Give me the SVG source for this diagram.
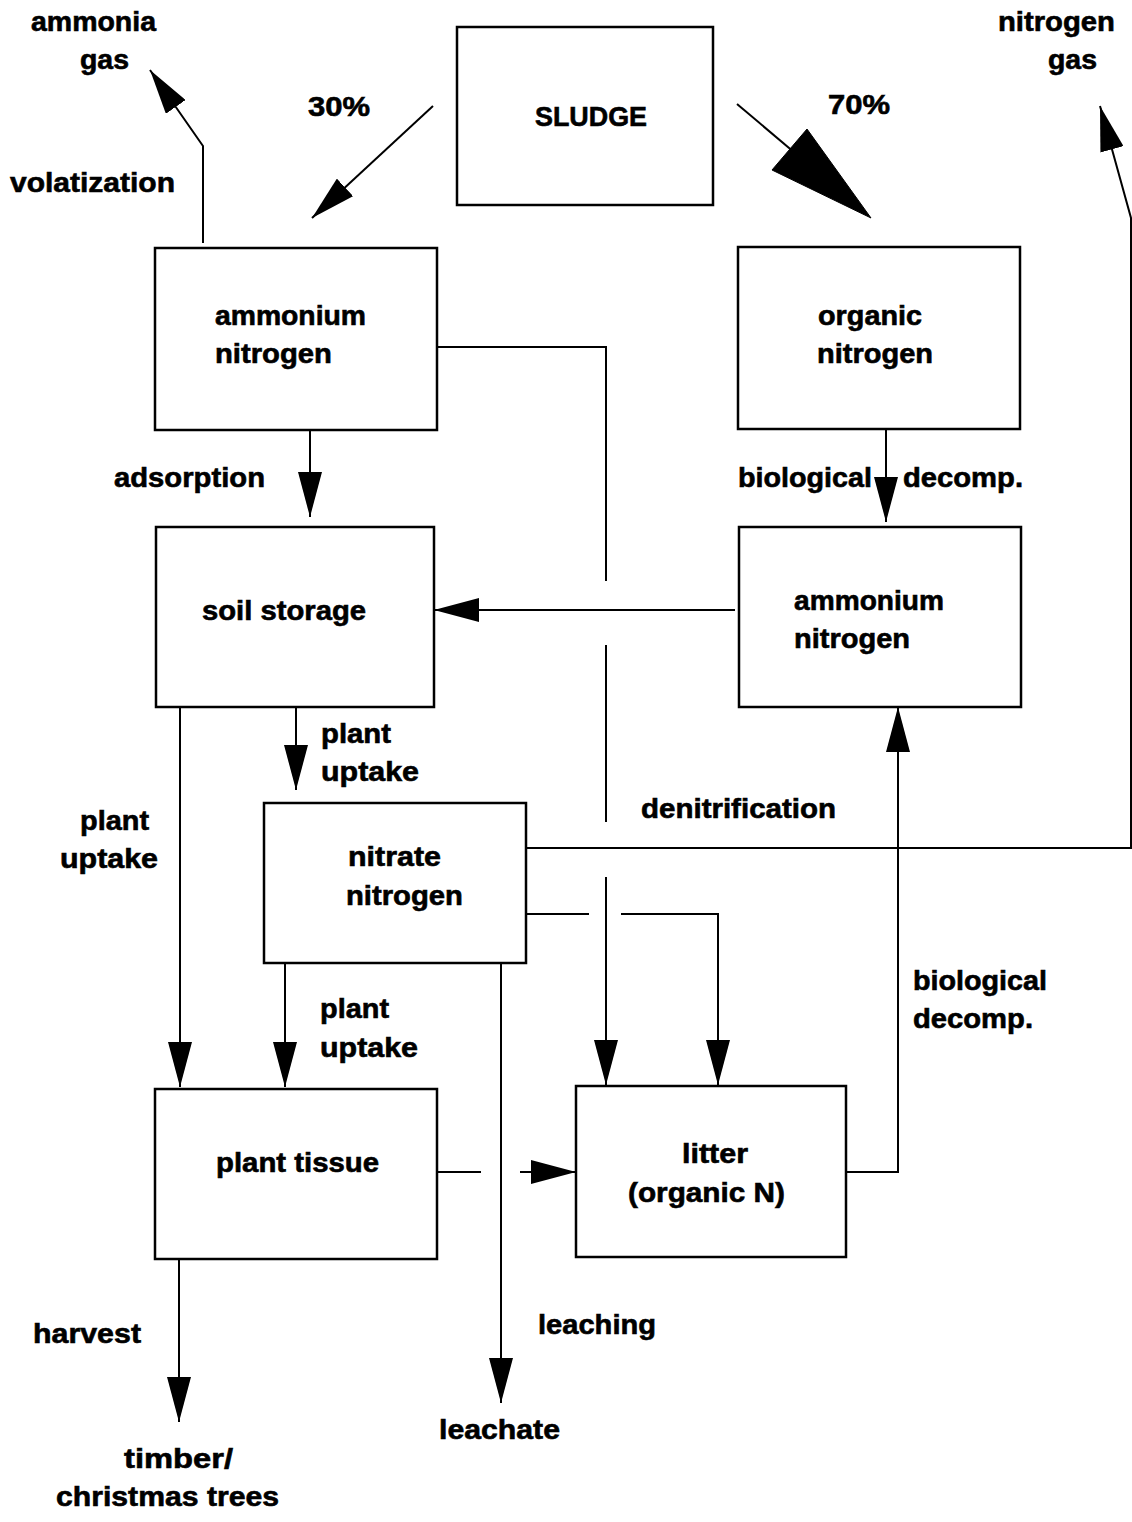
<svg xmlns="http://www.w3.org/2000/svg" width="1132" height="1522" viewBox="0 0 1132 1522">
<style>
.box{fill:#fff;stroke:#000;stroke-width:2.5}
.ln{fill:none;stroke:#000;stroke-width:2}
.hd{fill:#000;stroke:#000;stroke-width:1}
text{font-family:"Liberation Sans",Arial,sans-serif;font-weight:bold;font-size:27px;fill:#000;stroke:#000;stroke-width:0.6}
</style>
<defs>
<marker id="ah" viewBox="0 0 45 24" markerWidth="45" markerHeight="24" refX="45" refY="12" orient="auto" markerUnits="userSpaceOnUse">
<path d="M0,0 L45,12 L0,24 z" fill="#000"/>
</marker>
</defs>
<rect width="1132" height="1522" fill="#fff"/>

<g id="connectors">
<path class="ln" d="M433,106 L312,218" marker-end="url(#ah)"/>
<path class="ln" d="M737,104 L795,153"/>
<polygon class="hd" points="871,218 807,129 772,170"/>
<path class="ln" d="M203,243 V146 L150,70" marker-end="url(#ah)"/>
<path class="ln" d="M526,848 H1131 V218 L1100,106" marker-end="url(#ah)"/>
<path class="ln" d="M310,430 V517" marker-end="url(#ah)"/>
<path class="ln" d="M886,429 V522" marker-end="url(#ah)"/>
<path class="ln" d="M735,610 H434" marker-end="url(#ah)"/>
<path class="ln" d="M437,347 H606 V581"/>
<path class="ln" d="M606,645 V822"/>
<path class="ln" d="M606,877 V1085" marker-end="url(#ah)"/>
<path class="ln" d="M526,914 H589"/>
<path class="ln" d="M621,914 H718 V1085" marker-end="url(#ah)"/>
<path class="ln" d="M296,707 V790" marker-end="url(#ah)"/>
<path class="ln" d="M180,707 V1087" marker-end="url(#ah)"/>
<path class="ln" d="M285,963 V1087" marker-end="url(#ah)"/>
<path class="ln" d="M437,1172 H481"/>
<path class="ln" d="M520,1172 H576" marker-end="url(#ah)"/>
<path class="ln" d="M846,1172 H898 V707" marker-end="url(#ah)"/>
<path class="ln" d="M501,963 V1403" marker-end="url(#ah)"/>
<path class="ln" d="M179,1259 V1422" marker-end="url(#ah)"/>
</g>

<g id="sludge">
<rect class="box" x="457" y="27" width="256" height="178"/>
<text x="535" y="126" textLength="112" lengthAdjust="spacingAndGlyphs">SLUDGE</text>
</g>
<g id="ammonium-left">
<rect class="box" x="155" y="248" width="282" height="182"/>
<text x="215" y="325" textLength="151" lengthAdjust="spacingAndGlyphs">ammonium</text>
<text x="215" y="363" textLength="117" lengthAdjust="spacingAndGlyphs">nitrogen</text>
</g>
<g id="organic-nitrogen">
<rect class="box" x="738" y="247" width="282" height="182"/>
<text x="818" y="325" textLength="104" lengthAdjust="spacingAndGlyphs">organic</text>
<text x="817" y="363" textLength="116" lengthAdjust="spacingAndGlyphs">nitrogen</text>
</g>
<g id="soil-storage">
<rect class="box" x="156" y="527" width="278" height="180"/>
<text x="202" y="620" textLength="164" lengthAdjust="spacingAndGlyphs">soil storage</text>
</g>
<g id="ammonium-right">
<rect class="box" x="739" y="527" width="282" height="180"/>
<text x="794" y="610" textLength="150" lengthAdjust="spacingAndGlyphs">ammonium</text>
<text x="794" y="648" textLength="116" lengthAdjust="spacingAndGlyphs">nitrogen</text>
</g>
<g id="nitrate-nitrogen">
<rect class="box" x="264" y="803" width="262" height="160"/>
<text x="348" y="866" textLength="93" lengthAdjust="spacingAndGlyphs">nitrate</text>
<text x="346" y="905" textLength="117" lengthAdjust="spacingAndGlyphs">nitrogen</text>
</g>
<g id="plant-tissue">
<rect class="box" x="155" y="1089" width="282" height="170"/>
<text x="216" y="1172" textLength="163" lengthAdjust="spacingAndGlyphs">plant tissue</text>
</g>
<g id="litter">
<rect class="box" x="576" y="1086" width="270" height="171"/>
<text x="682" y="1163" textLength="66" lengthAdjust="spacingAndGlyphs">litter</text>
<text x="628" y="1202" textLength="157" lengthAdjust="spacingAndGlyphs">(organic N)</text>
</g>
<g id="ammonia-gas">
<text x="31" y="31" textLength="125" lengthAdjust="spacingAndGlyphs">ammonia</text>
<text x="80" y="69" textLength="49" lengthAdjust="spacingAndGlyphs">gas</text>
</g>
<g id="nitrogen-gas">
<text x="998" y="31" textLength="117" lengthAdjust="spacingAndGlyphs">nitrogen</text>
<text x="1048" y="69" textLength="49" lengthAdjust="spacingAndGlyphs">gas</text>
</g>
<g id="timber">
<text x="124" y="1468" textLength="109" lengthAdjust="spacingAndGlyphs">timber/</text>
<text x="56" y="1506" textLength="223" lengthAdjust="spacingAndGlyphs">christmas trees</text>
</g>
<g id="leachate">
<text x="439" y="1439" textLength="121" lengthAdjust="spacingAndGlyphs">leachate</text>
</g>
<g id="labels">
<text x="308" y="116" textLength="62" lengthAdjust="spacingAndGlyphs">30%</text>
<text x="828" y="114" textLength="62" lengthAdjust="spacingAndGlyphs">70%</text>
<text x="10" y="192" textLength="165" lengthAdjust="spacingAndGlyphs">volatization</text>
<text x="114" y="487" textLength="151" lengthAdjust="spacingAndGlyphs">adsorption</text>
<text x="738" y="487" textLength="134" lengthAdjust="spacingAndGlyphs">biological</text>
<text x="903" y="487" textLength="120" lengthAdjust="spacingAndGlyphs">decomp.</text>
<text x="321" y="743" textLength="70" lengthAdjust="spacingAndGlyphs">plant</text>
<text x="321" y="781" textLength="98" lengthAdjust="spacingAndGlyphs">uptake</text>
<text x="80" y="830" textLength="69" lengthAdjust="spacingAndGlyphs">plant</text>
<text x="60" y="868" textLength="98" lengthAdjust="spacingAndGlyphs">uptake</text>
<text x="641" y="818" textLength="195" lengthAdjust="spacingAndGlyphs">denitrification</text>
<text x="913" y="990" textLength="134" lengthAdjust="spacingAndGlyphs">biological</text>
<text x="913" y="1028" textLength="120" lengthAdjust="spacingAndGlyphs">decomp.</text>
<text x="320" y="1018" textLength="69" lengthAdjust="spacingAndGlyphs">plant</text>
<text x="320" y="1057" textLength="98" lengthAdjust="spacingAndGlyphs">uptake</text>
<text x="33" y="1343" textLength="108" lengthAdjust="spacingAndGlyphs">harvest</text>
<text x="538" y="1334" textLength="118" lengthAdjust="spacingAndGlyphs">leaching</text>
</g>
</svg>
